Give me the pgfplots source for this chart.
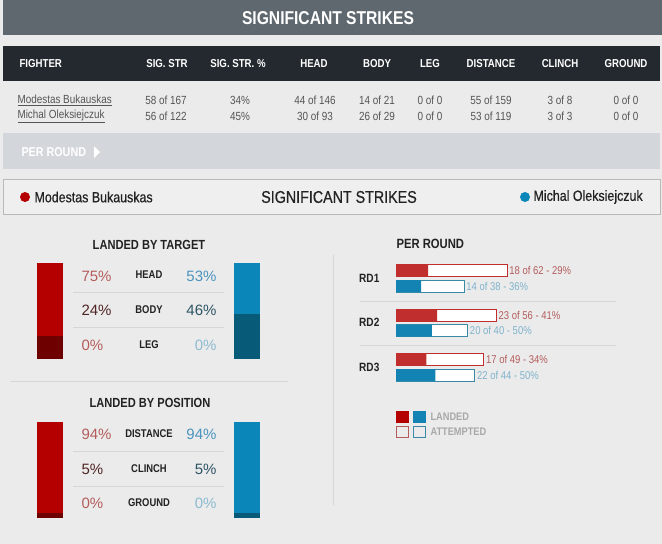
\documentclass[border=0pt]{standalone}
\usepackage{pgfplots}
\pgfplotsset{compat=1.18}
\usepackage{fontspec}
\setmainfont{Liberation Sans}
\newfontfamily\cond[FakeStretch=0.84]{Liberation Sans}
\newfontfamily\condm[FakeStretch=0.84,FakeBold=0.5]{Liberation Sans}
\newcommand{\fs}[1]{\fontsize{#1}{#1}\selectfont}
\definecolor{bg}{HTML}{EBEBEB}
\definecolor{banner}{HTML}{5F686F}
\definecolor{hdr}{HTML}{23292E}
\definecolor{pr}{HTML}{D3D7DB}
\definecolor{redA}{HTML}{B50000}
\definecolor{redD}{HTML}{6E0000}
\definecolor{blueA}{HTML}{0B86B8}
\definecolor{blueD}{HTML}{075A78}
\definecolor{redR}{HTML}{C02E2E}
\definecolor{blueR}{HTML}{1283B3}
\definecolor{blueO}{HTML}{3A8AA5}
\definecolor{redT}{HTML}{B45C5C}
\definecolor{redTD}{HTML}{4F2525}
\definecolor{blueT}{HTML}{4A94BD}
\definecolor{blueTD}{HTML}{2D5565}
\definecolor{blueTL}{HTML}{8CBBD0}
\definecolor{txt}{HTML}{222222}
\definecolor{val}{HTML}{555555}
\definecolor{sep}{HTML}{D6D6D6}
\definecolor{leg}{HTML}{A8A8A8}
\pgfplotsset{vbar/.style={anchor=south west, scale only axis, width=26pt,
  xmin=-0.5, xmax=0.5, ymin=0, hide axis, ybar stacked, bar width=26pt}}
\begin{document}
\begin{tikzpicture}[x=1pt,y=1pt]
\useasboundingbox (0,0) rectangle (662,-544);
\fill[bg] (0,0) rectangle (662,-544);
% banner
\fill[banner] (3,0) rectangle (662,-35);
\node[white] at (328,-18) {\cond\bfseries\fs{18.6}SIGNIFICANT STRIKES};
% table header
\fill[hdr] (3,-46) rectangle (660,-81);
\begin{scope}[every node/.style={white,font=\cond\bfseries\fs{11.5}}]
\node[anchor=west] at (16,-64) {FIGHTER};
\node at (167,-64) {SIG. STR};
\node at (238,-64) {SIG. STR. \%};
\node at (314,-64) {HEAD};
\node at (377,-64) {BODY};
\node at (430,-64) {LEG};
\node at (491,-64) {DISTANCE};
\node at (560,-64) {CLINCH};
\node at (626,-64) {GROUND};
\end{scope}
\begin{scope}[every node/.style={val,font=\cond\fs{11.8}}]
\node[anchor=west] at (14,-100) {\underline{Modestas Bukauskas}};
\node[anchor=west] at (14,-116) {\underline{Michal Oleksiejczuk}};
\node at (166,-100) {58 of 167};
\node at (166,-116) {56 of 122};
\node at (240,-100) {34\%};
\node at (240,-116) {45\%};
\node at (315,-100) {44 of 146};
\node at (315,-116) {30 of 93};
\node at (377,-100) {14 of 21};
\node at (377,-116) {26 of 29};
\node at (430,-100) {0 of 0};
\node at (430,-116) {0 of 0};
\node at (491,-100) {55 of 159};
\node at (491,-116) {53 of 119};
\node at (560,-100) {3 of 8};
\node at (560,-116) {3 of 3};
\node at (626,-100) {0 of 0};
\node at (626,-116) {0 of 0};
\end{scope}
% per round band
\fill[pr] (3,-133) rectangle (660,-169);
\node[white,anchor=west] at (18,-152) {\cond\bfseries\fs{12.8}PER ROUND};
\fill[white] (94,-146) -- (100,-152) -- (94,-158) -- cycle;
% box
\draw[gray!55, fill=bg!80!white] (3,-179) rectangle (660,-214);
\fill[redA] (25,-197) circle (5);
\node[txt,anchor=west] at (31,-197) {\condm\fs{14.8}Modestas Bukauskas};
\node[txt] at (339,-197) {\condm\fs{17}SIGNIFICANT STRIKES};
\fill[blueA] (525,-197) circle (5);
\node[txt,anchor=west] at (530,-197) {\condm\fs{14.8}Michal Oleksiejczuk};
% left panel
\node[txt] at (149,-245) {\cond\bfseries\fs{13.2}LANDED BY TARGET};
\node[txt] at (150,-403) {\cond\bfseries\fs{13.2}LANDED BY POSITION};
\draw[sep] (73,-292) -- (224,-292);
\draw[sep] (73,-327) -- (224,-327);
\draw[sep] (73,-451) -- (224,-451);
\draw[sep] (73,-486) -- (224,-486);
\draw[sep] (10,-381) -- (288,-381);
\draw[sep] (333,-255) -- (333,-505);
\begin{scope}[every node/.style={font=\fs{15}}]
\node[redT,anchor=west] at (78,-276) {75\%};
\node[redTD,anchor=west] at (78,-310) {24\%};
\node[redT,anchor=west] at (78,-345) {0\%};
\node[blueT,anchor=east] at (220,-276) {53\%};
\node[blueTD,anchor=east] at (220,-310) {46\%};
\node[blueTL,anchor=east] at (220,-345) {0\%};
\node[redT,anchor=west] at (78,-434) {94\%};
\node[redTD,anchor=west] at (78,-469) {5\%};
\node[redT,anchor=west] at (78,-503) {0\%};
\node[blueT,anchor=east] at (220,-434) {94\%};
\node[blueTD,anchor=east] at (220,-469) {5\%};
\node[blueTL,anchor=east] at (220,-503) {0\%};
\end{scope}
\begin{scope}[every node/.style={txt,font=\cond\bfseries\fs{11.2}}]
\node at (149,-275) {HEAD};
\node at (149,-310) {BODY};
\node at (149,-345) {LEG};
\node at (149,-434) {DISTANCE};
\node at (149,-469) {CLINCH};
\node at (149,-503) {GROUND};
\end{scope}
% landed by target: stacked bars (bottom to top: leg, body, head)
\begin{axis}[vbar, at={(37pt,-359pt)}, height=96pt, ymax=58]
\addplot[fill=redD, draw=none] coordinates {(0,0)};
\addplot[fill=redD, draw=none] coordinates {(0,14)};
\addplot[fill=redA, draw=none] coordinates {(0,44)};
\end{axis}
\begin{axis}[vbar, at={(234pt,-359pt)}, height=96pt, ymax=56]
\addplot[fill=blueD, draw=none] coordinates {(0,0)};
\addplot[fill=blueD, draw=none] coordinates {(0,26)};
\addplot[fill=blueA, draw=none] coordinates {(0,30)};
\end{axis}
% landed by position (bottom to top: ground, clinch, distance)
\begin{axis}[vbar, at={(37pt,-518pt)}, height=96pt, ymax=58]
\addplot[fill=redD, draw=none] coordinates {(0,0)};
\addplot[fill=redD, draw=none] coordinates {(0,3)};
\addplot[fill=redA, draw=none] coordinates {(0,55)};
\end{axis}
\begin{axis}[vbar, at={(234pt,-518pt)}, height=96pt, ymax=56]
\addplot[fill=blueD, draw=none] coordinates {(0,0)};
\addplot[fill=blueD, draw=none] coordinates {(0,3)};
\addplot[fill=blueA, draw=none] coordinates {(0,53)};
\end{axis}
% per round
\node[txt,anchor=west] at (393,-244) {\cond\bfseries\fs{13.4}PER ROUND};
\draw[sep] (360,-301) -- (616,-301);
\draw[sep] (360,-345) -- (616,-345);
\begin{axis}[at={(396pt,-389.5pt)}, anchor=south west, scale only axis,
  width=125.3pt, height=133.5pt, xmin=0, xmax=70, ymin=0.5, ymax=3.5, y dir=reverse,
  xbar, bar width=12pt, axis line style={draw=none}, xtick=\empty, ytick={1,2,3},
  yticklabels={RD1,RD2,RD3}, major tick length=0pt,
  yticklabel style={anchor=west, inner sep=0pt, xshift=-37pt, font=\cond\bfseries\fs{12}, text=txt},
  clip=false]
\addplot[fill=white, draw=redR, line width=0.8pt, bar shift=7.75pt,
  nodes near coords, point meta=explicit symbolic,
  nodes near coords style={font=\cond\fs{11.3}, text=redT, anchor=west, inner sep=2pt}]
  coordinates {(62,1) [18 of 62 - 29\%] (56,2) [23 of 56 - 41\%] (49,3) [17 of 49 - 34\%]};
\addplot[fill=redR, draw=none, bar shift=7.75pt] coordinates {(18,1) (23,2) (17,3)};
\addplot[fill=white, draw=blueO, line width=0.8pt, bar shift=-7.75pt,
  nodes near coords, point meta=explicit symbolic,
  nodes near coords style={font=\cond\fs{11.3}, text=blueTL!80!blueT, anchor=west, inner sep=2pt}]
  coordinates {(38,1) [14 of 38 - 36\%] (40,2) [20 of 40 - 50\%] (44,3) [22 of 44 - 50\%]};
\addplot[fill=blueR, draw=none, bar shift=-7.75pt] coordinates {(14,1) (20,2) (22,3)};
\end{axis}
% legend
\fill[redA] (396,-411) rectangle (409,-423);
\fill[blueR] (413,-411) rectangle (426,-423);
\draw[redT, line width=0.6pt] (396.5,-426.5) rectangle (408.5,-437.5);
\draw[blueO, line width=0.6pt] (413.5,-426.5) rectangle (425.5,-437.5);
\node[leg,anchor=west] at (427,-416.5) {\cond\bfseries\fs{11}LANDED};
\node[leg,anchor=west] at (427,-431.5) {\cond\bfseries\fs{11}ATTEMPTED};
\end{tikzpicture}
\end{document}
